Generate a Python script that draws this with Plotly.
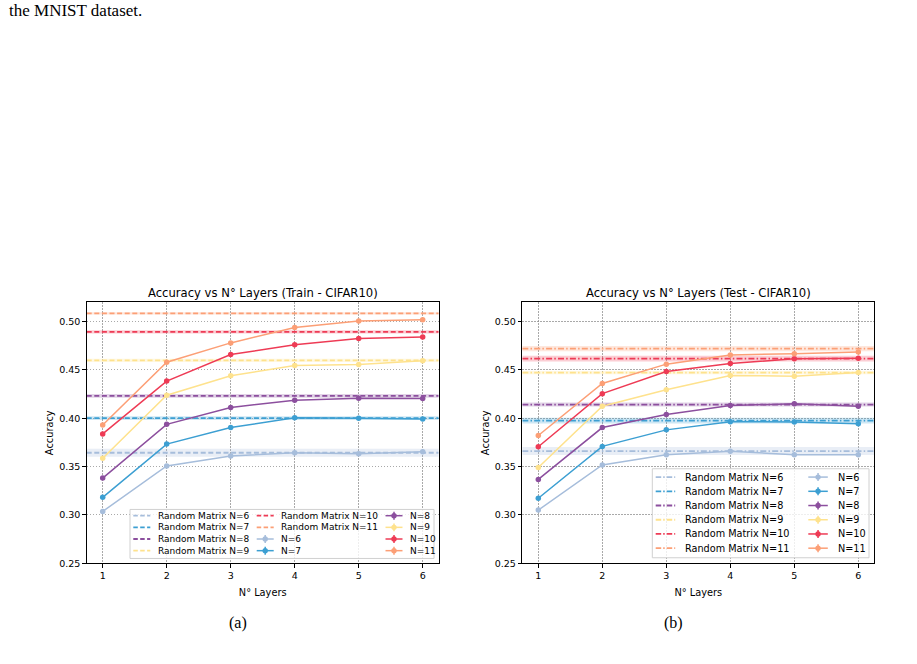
import plotly.graph_objects as go

W, H = 917, 664

# ---------------- data ----------------
layers = [1, 2, 3, 4, 5, 6]
sizes = [6, 7, 8, 9, 10, 11]
colors = ['#a6bddb', '#3c9fd2', '#8c4f9e', '#fee28d', '#ee3b55', '#fc9f76']

train_N6 = [0.3036, 0.3507, 0.3610, 0.3643, 0.3633, 0.3654]
train_N7 = [0.3182, 0.3733, 0.3904, 0.4006, 0.4000, 0.3992]
train_N8 = [0.3381, 0.3937, 0.4112, 0.4187, 0.4207, 0.4204]
train_N9 = [0.3586, 0.4238, 0.4440, 0.4545, 0.4556, 0.4596]
train_N10 = [0.3838, 0.4385, 0.4660, 0.4760, 0.4826, 0.4840]
train_N11 = [0.3930, 0.4580, 0.4780, 0.4940, 0.5006, 0.5020]
train_random_mean = [0.3643, 0.4002, 0.4232, 0.4600, 0.4894, 0.5085]
train_random_std = [0.0041, 0.0020, 0.0020, 0.0017, 0.0017, 0.0012]

test_N6 = [0.3050, 0.3517, 0.3623, 0.3658, 0.3623, 0.3623]
test_N7 = [0.3172, 0.3709, 0.3880, 0.3965, 0.3961, 0.3944]
test_N8 = [0.3367, 0.3904, 0.4040, 0.4132, 0.4150, 0.4125]
test_N9 = [0.3490, 0.4125, 0.4296, 0.4443, 0.4436, 0.4473]
test_N10 = [0.3705, 0.4255, 0.4484, 0.4566, 0.4617, 0.4620]
test_N11 = [0.3822, 0.4360, 0.4560, 0.4655, 0.4668, 0.4685]
test_random_mean = [0.3661, 0.3975, 0.4142, 0.4473, 0.4617, 0.4720]
test_random_std = [0.0041, 0.0030, 0.0020, 0.0017, 0.0030, 0.0027]

train_series = [train_N6, train_N7, train_N8, train_N9, train_N10, train_N11]
test_series = [test_N6, test_N7, test_N8, test_N9, test_N10, test_N11]

y_ticks = [0.25, 0.30, 0.35, 0.40, 0.45, 0.50]
y_range = [0.25, 0.52]

titles = ['Accuracy vs N° Layers (Train - CIFAR10)', 'Accuracy vs N° Layers (Test - CIFAR10)']
x_title = 'N° Layers'
y_title = 'Accuracy'
captions = ['(a)', '(b)']
top_text = 'the MNIST dataset.'

# ---------------- helpers ----------------
FONT = 'DejaVu Sans'
SERIF = 'Liberation Serif'


def rgba(hex_color, a):
    h = hex_color.lstrip('#')
    r, g, b = int(h[0:2], 16), int(h[2:4], 16), int(h[4:6], 16)
    return f'rgba({r},{g},{b},{a})'


def px(x):
    return x / W


def py(y):
    return 1 - y / H


pad = 0.05 * (max(layers) - min(layers))
x_lo, x_hi = min(layers) - pad, max(layers) + pad

fig = go.Figure()

panels = [
    dict(series=train_series, rmean=train_random_mean, rstd=train_random_std,
         xa='x', ya='y', dash='5px,2.6px'),
    dict(series=test_series, rmean=test_random_mean, rstd=test_random_std,
         xa='x2', ya='y2', dash='6px,2.2px,1.5px,2.2px'),
]

for p in panels:
    # bands
    for c, m, s in zip(colors, p['rmean'], p['rstd']):
        fig.add_trace(go.Scatter(
            x=[x_lo, x_hi, x_hi, x_lo], y=[m - s, m - s, m + s, m + s],
            fill='toself', fillcolor=rgba(c, 0.25), line=dict(width=0),
            mode='lines', hoverinfo='skip', showlegend=False,
            xaxis=p['xa'], yaxis=p['ya']))
    # random matrix lines
    for c, m in zip(colors, p['rmean']):
        fig.add_trace(go.Scatter(
            x=[x_lo, x_hi], y=[m, m], mode='lines',
            line=dict(color=c, width=1.8, dash=p['dash']),
            hoverinfo='skip', showlegend=False,
            xaxis=p['xa'], yaxis=p['ya']))
    # measured series
    for c, vals, n in zip(colors, p['series'], sizes):
        fig.add_trace(go.Scatter(
            x=layers, y=vals, mode='lines+markers', name=f'N={n}',
            line=dict(color=c, width=1.5),
            marker=dict(color=c, size=5.5, line=dict(width=0)),
            showlegend=False, xaxis=p['xa'], yaxis=p['ya']))

# ---------------- axes ----------------
ax_y_dom = [py(567.5), py(304.6)]
x_doms = [[px(86.7), px(438.7)], [px(522.3), px(874.3)]]

GRID = 'rgba(140,140,140,0.75)'
common_x = dict(range=[x_lo, x_hi], tickvals=layers, showline=True, mirror=True,
                linecolor='black', linewidth=1, ticks='outside', ticklen=3.5,
                tickcolor='black', tickwidth=1, showgrid=True, gridcolor=GRID,
                griddash='1.3px,1.7px', gridwidth=0.9, zeroline=False,
                tickfont=dict(size=9.5, color='black', family=FONT),
                title=dict(text=x_title, font=dict(size=9.8, color='black', family=FONT), standoff=9))
common_y = dict(range=y_range, tickvals=y_ticks, tickformat='.2f', showline=True, mirror=True,
                linecolor='black', linewidth=1, ticks='outside', ticklen=3.5,
                tickcolor='black', tickwidth=1, showgrid=True, gridcolor=GRID,
                griddash='1.3px,1.7px', gridwidth=0.9, zeroline=False,
                tickfont=dict(size=9.5, color='black', family=FONT),
                title=dict(text=y_title, font=dict(size=9.8, color='black', family=FONT), standoff=3))

fig.update_layout(
    xaxis=dict(domain=x_doms[0], anchor='y', **common_x),
    yaxis=dict(domain=ax_y_dom, anchor='x', **common_y),
    xaxis2=dict(domain=x_doms[1], anchor='y2', **common_x),
    yaxis2=dict(domain=ax_y_dom, anchor='x2', **common_y),
)

annotations = []
shapes = []

# titles
for dom, t in zip(x_doms, titles):
    annotations.append(dict(text=t, x=(dom[0] + dom[1]) / 2, y=py(295.5), xref='paper', yref='paper',
                            xanchor='center', yanchor='middle', showarrow=False,
                            font=dict(size=11.6, color='black', family=FONT)))

# captions
for cx, t in zip([238, 673], captions):
    annotations.append(dict(text=t, x=px(cx), y=py(628), xref='paper', yref='paper',
                            xanchor='center', yanchor='middle', showarrow=False,
                            font=dict(size=16, color='black', family=SERIF)))

annotations.append(dict(text=top_text, x=px(7), y=py(11), xref='paper', yref='paper',
                        xanchor='left', yanchor='middle', showarrow=False,
                        font=dict(size=17, color='black', family=SERIF)))


# ---------------- manual legends ----------------
def build_legend(frame, cols, row_y0, row_step, hlen, tgap, fsize, dash, entries, nrows):
    x0, y0, x1, y1 = frame
    shapes.append(dict(type='rect', xref='paper', yref='paper', x0=px(x0), x1=px(x1),
                       y0=py(y1), y1=py(y0), fillcolor='rgba(255,255,255,0.8)',
                       line=dict(color='#d0d0d0', width=1), layer='above'))
    for i, (label, color, kind) in enumerate(entries):
        col, row = divmod(i, nrows)
        hx = cols[col]
        yy = row_y0 + row * row_step
        if kind == 'rand':
            shapes.append(dict(type='line', xref='paper', yref='paper', x0=px(hx), x1=px(hx + hlen),
                               y0=py(yy), y1=py(yy), line=dict(color=color, width=1.8, dash=dash),
                               layer='above'))
        else:
            shapes.append(dict(type='line', xref='paper', yref='paper', x0=px(hx), x1=px(hx + hlen),
                               y0=py(yy), y1=py(yy), line=dict(color=color, width=1.5), layer='above'))
            cx = hx + hlen / 2
            shapes.append(dict(type='line', xref='paper', yref='paper', x0=px(cx), x1=px(cx),
                               y0=py(yy - 4), y1=py(yy + 4), line=dict(color=color, width=1.5),
                               layer='above'))
            r = 2.7
            shapes.append(dict(type='circle', xref='paper', yref='paper', x0=px(cx - r), x1=px(cx + r),
                               y0=py(yy + r), y1=py(yy - r), fillcolor=color,
                               line=dict(width=0), layer='above'))
        annotations.append(dict(text=label, x=px(hx + hlen + tgap), y=py(yy), xref='paper', yref='paper',
                                xanchor='left', yanchor='middle', showarrow=False,
                                font=dict(size=fsize, color='black', family=FONT)))


entries = [(f'Random Matrix N={n}', c, 'rand') for n, c in zip(sizes, colors)] + \
          [(f'N={n}', c, 'data') for n, c in zip(sizes, colors)]

build_legend(frame=(130, 513.3, 434, 562.7), cols=[133.3, 256.7, 385.5], row_y0=519.6, row_step=11.75,
             hlen=17, tgap=5.5, fsize=9.0, dash='4.5px,2.4px', entries=entries, nrows=4)
build_legend(frame=(652.3, 472.3, 869, 562), cols=[655.7, 808.3], row_y0=480.7, row_step=14.33,
             hlen=19.5, tgap=8, fsize=9.7, dash='5.5px,2px,1.5px,2px', entries=entries, nrows=6)

fig.update_layout(
    width=W, height=H, margin=dict(l=0, r=0, t=0, b=0),
    paper_bgcolor='white', plot_bgcolor='white',
    font=dict(family=FONT, color='black'),
    showlegend=False,
    annotations=annotations, shapes=shapes,
)

fig.write_html('out.html')
